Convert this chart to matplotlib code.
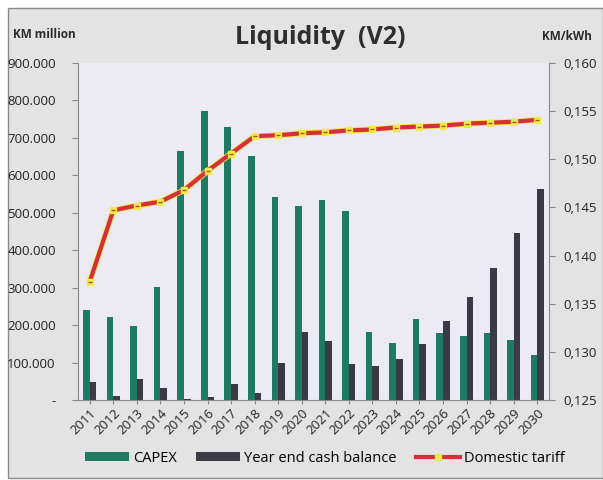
import matplotlib
matplotlib.use("Agg")
import matplotlib.pyplot as plt
import numpy as np
from matplotlib.patches import Rectangle
from matplotlib.lines import Line2D
from matplotlib.patches import Patch

years = [str(y) for y in range(2011, 2031)]
capex = [240, 222, 198, 301, 664, 773, 728, 652, 543, 519,
         533, 505, 181, 153, 217, 178, 171, 178, 161, 120]
cash = [49, 12, 57, 33, 2, 7, 44, 18, 100, 182,
        157, 96, 91, 109, 150, 211, 275, 352, 445, 563]
tariff = [0.1373, 0.1447, 0.1452, 0.1456, 0.1468, 0.1488, 0.1506, 0.1524, 0.1525, 0.1527,
          0.1528, 0.1530, 0.1531, 0.1533, 0.1534, 0.1535, 0.1537, 0.1538, 0.1539, 0.1541]
left_ticks = [0, 100, 200, 300, 400, 500, 600, 700, 800, 900]
left_labels = ["-", "100.000", "200.000", "300.000", "400.000", "500.000",
               "600.000", "700.000", "800.000", "900.000"]
right_ticks = [0.125, 0.130, 0.135, 0.140, 0.145, 0.150, 0.155, 0.160]
right_labels = ["0,125", "0,130", "0,135", "0,140", "0,145", "0,150", "0,155", "0,160"]

plt.rcParams['font.family'] = ['Open Sans', 'DejaVu Sans']

fig = plt.figure(figsize=(6.03, 4.80), dpi=100)
fig.patch.set_facecolor('white')
# chart area frame
frame = Rectangle((8/603, 2/480), 1 - 8/603, 1 - 10/480, transform=fig.transFigure,
                  facecolor='#e3e3e3', edgecolor='#8a8a8a', linewidth=1.0, zorder=-10)
fig.patches.append(frame)

ax = fig.add_axes([78/603, 80/480, 471/603, 337/480])
ax.set_facecolor('#eceaf2')
x = np.arange(len(years))
w = 0.28
ax.bar(x - w/2, capex, width=w, color='#1f7a62', zorder=2)
ax.bar(x + w/2, cash, width=w, color='#3a3a44', zorder=2)
ax.set_xlim(-0.5, len(years) - 0.5)
ax.set_ylim(0, 900)
ax.set_yticks(left_ticks)
ax.set_yticklabels(left_labels, fontsize=9.5, color='#222222')
ax.set_xticks(x)
ax.set_xticklabels(years, rotation=45, ha='right', rotation_mode='anchor', fontsize=9.5, color='#222222')
ax.tick_params(axis='x', length=3, color='#888888', pad=2)
ax.tick_params(axis='y', length=4, color='#888888', pad=12)
ax.spines['top'].set_visible(False)
ax.spines['right'].set_visible(False)
ax.spines['left'].set_color('#888888')
ax.spines['bottom'].set_color('#888888')

ax2 = ax.twinx()
ax2.plot(x, tariff, color='#f2e64c', linewidth=4.2, zorder=3, solid_capstyle='butt')
ax2.plot(x, tariff, color='#d42f3a', linewidth=3.0, zorder=4, solid_capstyle='butt')
ax2.plot(x, tariff, linestyle='none', marker='s', markersize=5, markerfacecolor='#f7e84a',
         markeredgecolor='#f7e84a', zorder=5)
ax2.plot(x, tariff, linestyle='none', marker='_', markersize=3.5, markeredgecolor='#9a5a20',
         markeredgewidth=1, zorder=6)
ax2.set_ylim(0.125, 0.160)
ax2.set_yticks(right_ticks)
ax2.set_yticklabels(right_labels, fontsize=9.5, color='#222222')
ax2.tick_params(axis='y', length=4, color='#888888', pad=6)
ax2.spines['top'].set_visible(False)
ax2.spines['left'].set_visible(False)
ax2.spines['bottom'].set_visible(False)
ax2.spines['right'].set_color('#888888')

fig.text(320/603, 1 - 38/480, "Liquidity  (V2)", fontsize=18, fontweight='bold',
         ha='center', va='center', color='#2e2e2e')
fig.text(13/603, 1 - 35/480, "KM million", fontsize=8.5, fontweight='bold',
         ha='left', va='center', color='#2a2a2a')
fig.text(592/603, 1 - 37/480, "KM/kWh", fontsize=8.5, fontweight='bold',
         ha='right', va='center', color='#2a2a2a')

handles = [Patch(facecolor='#1f7a62'), Patch(facecolor='#3a3a44'),
           Line2D([0], [0], color='#d42f3a', linewidth=3, marker='s', markersize=5,
                  markerfacecolor='#f7e84a', markeredgecolor='#f7e84a')]
fig.legend(handles, ["CAPEX", "Year end cash balance", "Domestic tariff"],
           loc='center', bbox_to_anchor=(325/603, 1 - 458/480), ncol=3, frameon=False,
           fontsize=10.5, handlelength=3.0, handleheight=0.6, columnspacing=1.3,
           handletextpad=0.3)

fig.savefig("out.png", dpi=100)
